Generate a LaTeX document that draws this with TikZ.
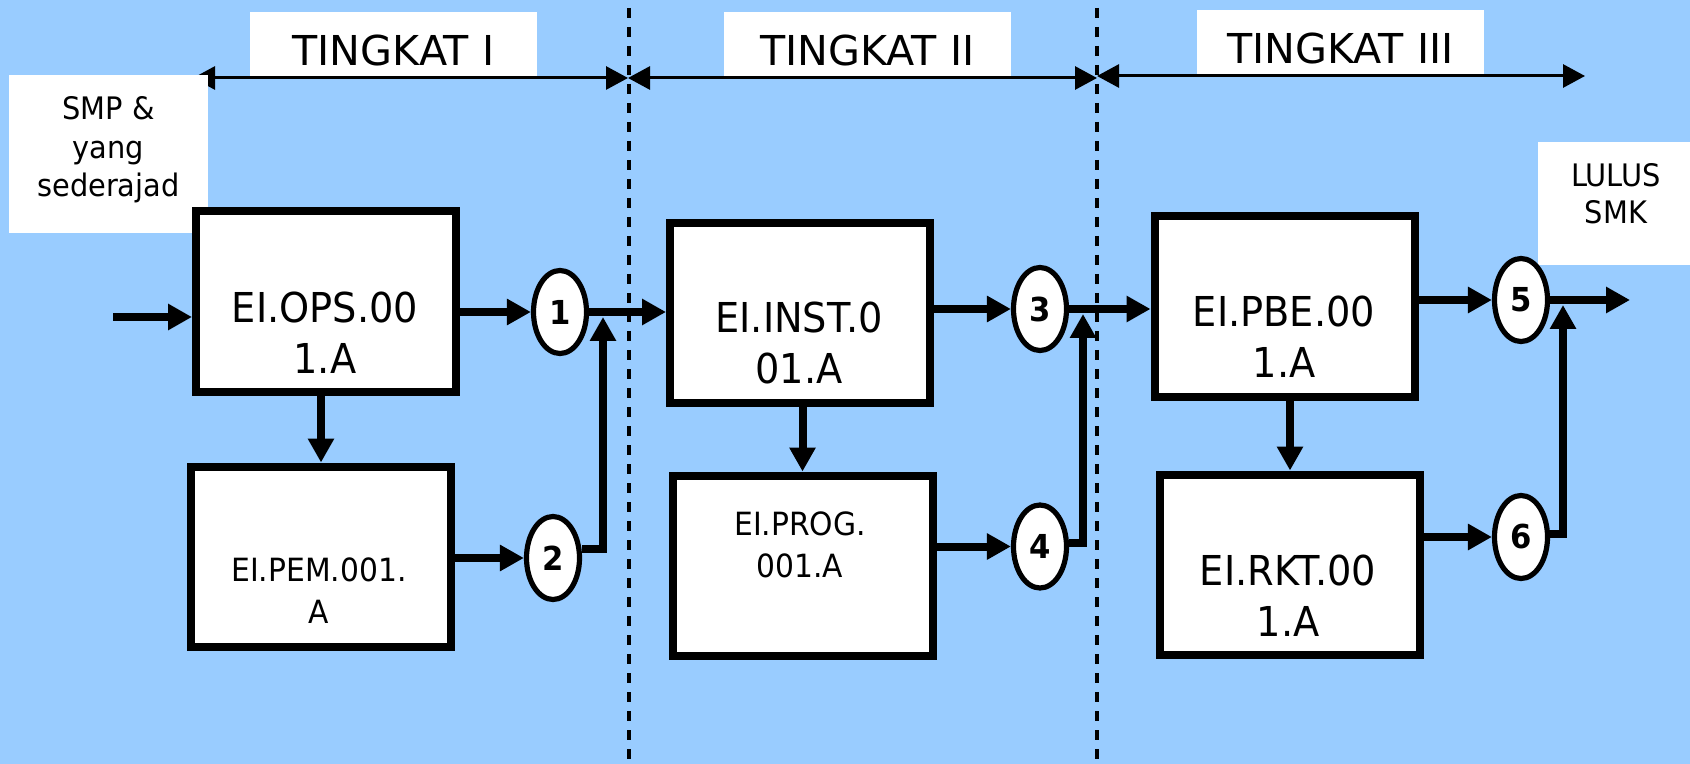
\documentclass[tikz,border=0pt]{standalone}
\usepackage{fontspec}
\setmainfont{DejaVu Sans}[FakeStretch=0.93]
\newfontfamily\widefont{DejaVu Sans}
\usetikzlibrary{arrows.meta,shapes.geometric,calc}
\definecolor{bgblue}{RGB}{153,204,255}
\begin{document}
\begin{tikzpicture}[x=0.5pt,y=-0.5pt,
  modbox/.style={draw=black,fill=white,line width=4pt,minimum width=130pt,minimum height=90pt,inner sep=0pt},
  bigtxt/.style={font=\fontsize{20.6pt}{25.5pt}\selectfont,align=center,inner sep=0pt},
  midtxt/.style={font=\fontsize{16pt}{21pt}\selectfont,align=center,inner sep=0pt},
  smalltxt/.style={font=\fontsize{15.5pt}{19.25pt}\selectfont,align=center,inner sep=0pt},
  numnode/.style={ellipse,draw=black,fill=white,line width=2.6pt,minimum width=26.5pt,minimum height=41.5pt,inner sep=0pt,font=\bfseries\fontsize{16.5pt}{16.5pt}\selectfont},
  flow/.style={line width=4pt,-{Triangle[length=12pt,width=12.5pt]}},
  span/.style={line width=1.5pt,{Triangle[length=11pt,width=11.5pt]}-{Triangle[length=11pt,width=11.5pt]}},
  divider/.style={line width=2pt,dash pattern=on 5pt off 4.5pt},
  whitebox/.style={fill=white,inner sep=0pt},
  levelbox/.style={fill=white,inner sep=0pt,minimum width=143.5pt,text height=27pt,text depth=5.5pt,font=\widefont\fontsize{20.6pt}{25pt}\selectfont},
]
\fill[bgblue] (0,0) rectangle (1690,764);
\useasboundingbox (0,0) rectangle (1690,764);

% dividers
\coordinate (d1t) at (629,8); \coordinate (d1b) at (629,764);
\coordinate (d2t) at (1097,8); \coordinate (d2b) at (1097,764);
\draw[divider] (d1t) -- (d1b);
\draw[divider] (d2t) -- (d2b);

% level labels
\node[levelbox,anchor=base] (lv1) at (393.5,66) {TINGKAT I};
\node[levelbox,anchor=base] (lv2) at (867.5,66) {TINGKAT II};
\node[levelbox,anchor=base] (lv3) at (1340.5,64) {TINGKAT III};

% level spans
\coordinate (sI) at (193,78);
\coordinate (x1) at (628,78);
\coordinate (x2) at (1097,78);
\coordinate (sIII) at (1585,76);
\draw[span] (sI) -- (x1);
\draw[span] (x1) -- (x2);
\draw[span] (x2 |- sIII) -- (sIII);

% entry and exit labels
\node[whitebox,minimum width=99.5pt,minimum height=79pt] (smpbox) at (108.5,154) {};
\node[smalltxt] (smp) at (108.5,150) {SMP \&\\yang\\sederajad};
\node[whitebox,minimum width=76pt,minimum height=61.5pt] (lulusbox) at (1614,203.5) {};
\node[smalltxt,font=\fontsize{15.5pt}{18.5pt}\selectfont] (lulus) at (1616,194) {LULUS\\SMK};

% module boxes
\node[modbox] (ops) at (326,301.5) {};
\node[bigtxt] (opsT) at (325,332.5) {EI.OPS.00\\1.A};
\node[modbox] (pem) at (321,556.5) {};
\node[midtxt] (pemT) at (319,590.5) {EI.PEM.001.\\A};
\node[modbox] (inst) at (800,313) {};
\node[bigtxt] (instT) at (799,343) {EI.INST.0\\01.A};
\node[modbox] (prog) at (802.5,565.5) {};
\node[midtxt] (progT) at (800,544.5) {EI.PROG.\\001.A};
\node[modbox] (pbe) at (1284.5,306.5) {};
\node[bigtxt] (pbeT) at (1284,337) {EI.PBE.00\\1.A};
\node[modbox] (rkt) at (1290,564.5) {};
\node[bigtxt] (rktT) at (1288,596) {EI.RKT.00\\1.A};

% numbered junctions
\node[numnode] (c1) at (560,312) {1};
\node[numnode] (c2) at (553,558) {2};
\node[numnode] (c3) at (1040,309) {3};
\node[numnode] (c4) at (1040,546.5) {4};
\node[numnode] (c5) at (1521,300) {5};
\node[numnode] (c6) at (1521,537) {6};

% flows
\coordinate (in) at (113,317);
\draw[flow] (in) -- (in -| ops.west);
\draw[flow] (ops.east |- c1.west) -- (c1.west);
\draw[flow] (c1.east) -- (c1.east -| inst.west);
\draw[flow] (ops.south -| pem.north) -- (pem.north);
\draw[flow] (pem.east |- c2.west) -- (c2.west);
\coordinate (j2) at (603,549);
\draw[flow] (c2.east |- j2) -- (j2) -- ($(j2 |- c1.east)+(0,5)$);

\draw[flow] (inst.east |- c3.west) -- (c3.west);
\draw[flow] (c3.east) -- (c3.east -| pbe.west);
\draw[flow] (inst.south -| prog.north) -- (prog.north);
\draw[flow] (prog.east |- c4.west) -- (c4.west);
\coordinate (j4) at (1083,543);
\draw[flow] (c4.east |- j4) -- (j4) -- ($(j4 |- c3.east)+(0,5)$);

\draw[flow] (pbe.east |- c5.west) -- (c5.west);
\coordinate (out) at (1630,300);
\draw[flow] (c5.east) -- (out);
\draw[flow] (pbe.south -| rkt.north) -- (rkt.north);
\draw[flow] (rkt.east |- c6.west) -- (c6.west);
\coordinate (j6) at (1563,534);
\draw[flow] (c6.east |- j6) -- (j6) -- ($(j6 |- c5.east)+(0,5)$);
\end{tikzpicture}
\end{document}
